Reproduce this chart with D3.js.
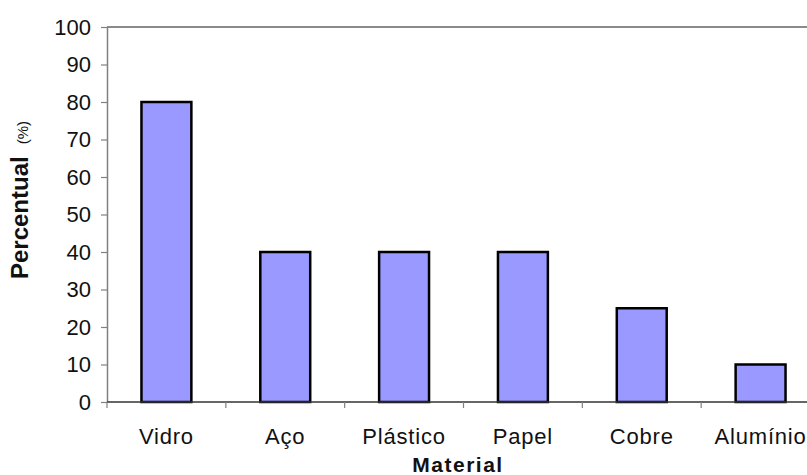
<!DOCTYPE html>
<html>
<head>
<meta charset="utf-8">
<script src="https://cdn.jsdelivr.net/npm/d3@7"></script>
<style>
  html, body { margin: 0; padding: 0; background: #fff; }
  svg { display: block; font-family: "Liberation Sans", Arial, sans-serif; }
</style>
</head>
<body>
<svg id="chart" width="807" height="475"></svg>
<script>
// Share of each material (%)
const materials = ["Vidro", "Aço", "Plástico", "Papel", "Cobre", "Alumínio"];
const percentages = [80, 40, 40, 40, 25, 10];
const yTicks = [0, 10, 20, 30, 40, 50, 60, 70, 80, 90, 100];

const svg = d3.select("#chart");
const plot = { left: 107, top: 27, bottom: 402, right: 820 };

const x = d3.scaleBand()
  .domain(materials)
  .range([plot.left, plot.right])
  .paddingInner(0.58)
  .paddingOuter(0.29);

const y = d3.scaleLinear()
  .domain([0, 100])
  .range([plot.bottom, plot.top]);

// Top frame line of the plot area
svg.append("line")
  .attr("x1", plot.left).attr("x2", 807)
  .attr("y1", y(100)).attr("y2", y(100))
  .attr("stroke", "#8a8a8a").attr("stroke-width", 2);

// Bars
svg.append("g").selectAll("rect")
  .data(materials.map((m, i) => ({ m, v: percentages[i] })))
  .join("rect")
  .attr("x", d => x(d.m))
  .attr("y", d => y(d.v))
  .attr("width", x.bandwidth())
  .attr("height", d => y(0) - y(d.v))
  .attr("fill", "#9999ff")
  .attr("stroke", "#000")
  .attr("stroke-width", 2.5);

// Y axis
const yAxis = svg.append("g")
  .attr("transform", `translate(${plot.left},0)`)
  .call(d3.axisLeft(y).tickValues(yTicks).tickSize(6).tickPadding(10).tickSizeOuter(0));
yAxis.select(".domain").attr("stroke", "#808080").attr("stroke-width", 1.5);
yAxis.selectAll(".tick line").attr("stroke", "#808080").attr("stroke-width", 1.2);
yAxis.selectAll(".tick text")
  .attr("font-size", 22).attr("fill", "#111")
  .attr("font-family", "Liberation Sans, Arial, sans-serif");

// X axis with ticks at category boundaries
const step = x.step();
const boundaries = d3.range(materials.length + 1).map(i => plot.left + i * step);
const xAxis = svg.append("g");
xAxis.append("line")
  .attr("x1", plot.left).attr("x2", 807)
  .attr("y1", y(0)).attr("y2", y(0))
  .attr("stroke", "#333").attr("stroke-width", 1.5);
xAxis.selectAll("line.tk")
  .data(boundaries)
  .join("line").attr("class", "tk")
  .attr("x1", d => d).attr("x2", d => d)
  .attr("y1", y(0)).attr("y2", y(0) + 6)
  .attr("stroke", "#808080").attr("stroke-width", 1.2);
xAxis.selectAll("text")
  .data(materials)
  .join("text")
  .attr("x", d => x(d) + x.bandwidth() / 2)
  .attr("y", 444)
  .attr("text-anchor", "middle")
  .attr("font-size", 22)
  .attr("letter-spacing", 0.8)
  .attr("fill", "#111")
  .text(d => d);

// Axis titles
svg.append("text")
  .attr("x", 458).attr("y", 472)
  .attr("text-anchor", "middle")
  .attr("font-size", 21).attr("font-weight", "bold")
  .attr("letter-spacing", 1.5)
  .attr("fill", "#111")
  .text("Material");

const yTitle = svg.append("text")
  .attr("transform", "translate(28,200) rotate(-90)")
  .attr("text-anchor", "middle")
  .attr("fill", "#111");
yTitle.append("tspan")
  .attr("font-size", 24).attr("font-weight", "bold")
  .text("Percentual");
yTitle.append("tspan")
  .attr("font-size", 15).attr("dx", 12)
  .text("(%)");
</script>
</body>
</html>
